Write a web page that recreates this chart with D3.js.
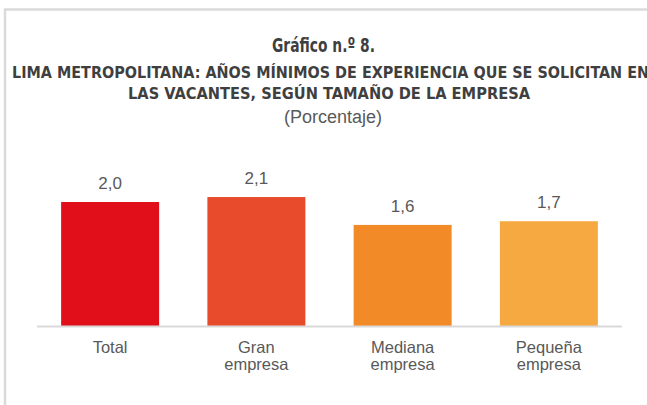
<!DOCTYPE html>
<html>
<head>
<meta charset="utf-8">
<script src="https://cdn.jsdelivr.net/npm/d3@7"></script>
<style>
  body { margin: 0; background: #fff; }
  svg { display: block; }
</style>
</head>
<body>
<div class="canvas"></div>
<script>
// data
const categories = ['Total', 'Gran empresa', 'Mediana empresa', 'Pequeña empresa']
const values = [2.0, 2.08, 1.63, 1.69]
const colours = ['#e10f1a', '#e84b2c', '#f28a28', '#f5a940']
const titleLines = [
  'LIMA METROPOLITANA: AÑOS MÍNIMOS DE EXPERIENCIA QUE SE SOLICITAN EN',
  'LAS VACANTES,  SEGÚN TAMAÑO DE LA EMPRESA'
]

const dims = {width: 647, height: 405}
const plot = {left: 37, right: 622, base: 326}

const svg = d3.select('.canvas')
  .append('svg')
  .attr('width', dims.width)
  .attr('height', dims.height)

// frame
svg.append('path')
  .attr('d', `M5,${dims.height} V9.5 H${dims.width}`)
  .attr('fill', 'none')
  .attr('stroke', '#dadada')
  .attr('stroke-width', 2.5)

const condensed = '"Liberation Sans Narrow", "DejaVu Sans Condensed", "Roboto Condensed", Arial, sans-serif'
const body = 'Arial, "Liberation Sans", sans-serif'

svg.append('text')
  .attr('x', 323.5).attr('y', 52)
  .attr('text-anchor', 'middle')
  .attr('font-family', condensed)
  .attr('font-weight', 'bold')
  .attr('font-size', 20)
  .attr('fill', '#3f3f3f')
  .attr('textLength', 103)
  .attr('lengthAdjust', 'spacingAndGlyphs')
  .text('Gráfico n.º 8.')

// widths of the two subtitle lines in the picture
const subWidths = [637, 402]
svg.selectAll('.sub')
  .data(titleLines)
  .enter().append('text')
  .attr('class', 'sub')
  .attr('x', (d, i) => i === 0 ? 330.5 : 329)
  .attr('y', (d, i) => 77.5 + i * 21)
  .attr('text-anchor', 'middle')
  .attr('font-family', condensed)
  .attr('font-weight', 'bold')
  .attr('font-size', 15.5)
  .attr('fill', '#3f3f3f')
  .attr('textLength', (d, i) => subWidths[i])
  .attr('lengthAdjust', 'spacingAndGlyphs')
  .text(d => d)

svg.append('text')
  .attr('x', 333).attr('y', 123)
  .attr('text-anchor', 'middle')
  .attr('font-family', body)
  .attr('font-size', 18)
  .attr('fill', '#595959')
  .text('(Porcentaje)')

const x = d3.scaleBand()
  .domain(categories)
  .range([plot.left, plot.right])
  .paddingInner(0.33)
  .paddingOuter(0.165)

const y = d3.scaleLinear()
  .domain([0, 1])
  .range([plot.base, plot.base - 62])

const graph = svg.append('g')

graph.selectAll('rect')
  .data(categories)
  .enter().append('rect')
  .attr('x', d => x(d))
  .attr('width', x.bandwidth())
  .attr('y', (d, i) => y(values[i]))
  .attr('height', (d, i) => y(0) - y(values[i]))
  .attr('fill', (d, i) => colours[i])

// axis line
svg.append('line')
  .attr('x1', plot.left).attr('x2', plot.right)
  .attr('y1', plot.base + 0.5).attr('y2', plot.base + 0.5)
  .attr('stroke', '#d9d9d9')
  .attr('stroke-width', 2)

const fmt = v => d3.format('.1f')(v).replace('.', ',')

graph.selectAll('.val')
  .data(categories)
  .enter().append('text')
  .attr('class', 'val')
  .attr('x', d => x(d) + x.bandwidth() / 2)
  .attr('y', (d, i) => y(values[i]) - 13)
  .attr('text-anchor', 'middle')
  .attr('font-family', body)
  .attr('font-size', 17)
  .attr('fill', '#595959')
  .text((d, i) => fmt(values[i]))

// category labels, split in two lines
const labels = graph.selectAll('.cat')
  .data(categories)
  .enter().append('text')
  .attr('class', 'cat')
  .attr('x', d => x(d) + x.bandwidth() / 2)
  .attr('y', 353)
  .attr('text-anchor', 'middle')
  .attr('font-family', body)
  .attr('font-size', 16.5)
  .attr('fill', '#595959')

labels.each(function(d) {
  const words = d.split(' ')
  const t = d3.select(this)
  words.forEach((w, i) => {
    t.append('tspan')
      .attr('x', x(d) + x.bandwidth() / 2)
      .attr('dy', i === 0 ? 0 : 17)
      .text(w)
  })
})
</script>
</body>
</html>
